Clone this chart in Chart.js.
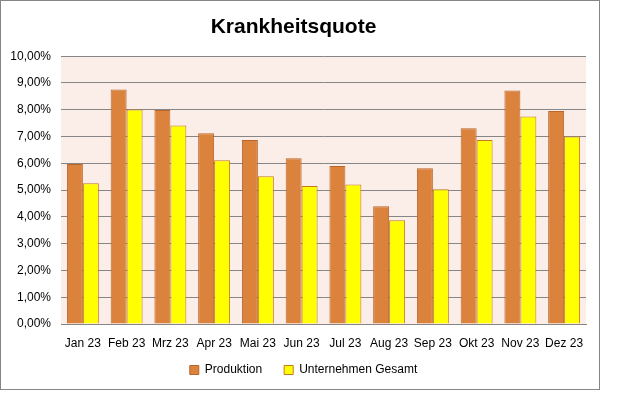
<!DOCTYPE html>
<html>
<head>
<meta charset="utf-8">
<script src="https://cdn.jsdelivr.net/npm/chart.js@4"></script>
<style>
  html, body { margin: 0; padding: 0; background: #fff; }
  #frame {
    position: absolute; left: 0; top: 0;
    width: 598px; height: 388px;
    border: 1px solid #868686;
  }
</style>
</head>
<body>
<div id="frame"><canvas id="chart" width="598" height="388"></canvas></div>
<script>
// Daten (Werte in Prozent)
const months = ['Jan 23', 'Feb 23', 'Mrz 23', 'Apr 23', 'Mai 23', 'Jun 23',
                'Jul 23', 'Aug 23', 'Sep 23', 'Okt 23', 'Nov 23', 'Dez 23'];
const produktion = [5.97, 8.76, 7.99, 7.12, 6.87, 6.19, 5.90, 4.40, 5.82, 7.31, 8.72, 7.95];
const unternehmenGesamt = [5.26, 8.01, 7.41, 6.11, 5.52, 5.15, 5.21, 3.87, 5.03, 6.87, 7.75, 7.00];
const yTicks = [0, 1, 2, 3, 4, 5, 6, 7, 8, 9, 10];

const FONT = "'Liberation Sans', Arial, sans-serif";

// Hintergrund der Zeichenfläche
const plotBackground = {
    id: 'plotBackground',
    beforeDraw(chart) {
        const { ctx, chartArea } = chart;
        ctx.save();
        ctx.fillStyle = '#FBEEE9';
        ctx.fillRect(chartArea.left, chartArea.top,
                     chartArea.right - chartArea.left, chartArea.bottom - chartArea.top);
        ctx.restore();
    }
};

// Legende: feste Höhe und etwas nach rechts/oben verschoben
const legendTweak = {
    id: 'legendTweak',
    beforeLayout(chart) {
        const lg = chart.legend;
        if (lg && !lg._patched) {
            const fit = lg.fit;
            lg.fit = function() {
                fit.call(this);
                this.height = 35;
            };
            lg._patched = true;
        }
    },
    afterLayout(chart) {
        const lg = chart.legend;
        if (lg) {
            lg.left += 10;
            lg.right += 10;
            lg.top -= 12;
            lg.bottom -= 12;
        }
    }
};

const ctx = document.getElementById('chart').getContext('2d');
new Chart(ctx, {
    type: 'bar',
    data: {
        labels: months,
        datasets: [
            {
                label: 'Produktion',
                data: produktion,
                backgroundColor: '#DB823D',
                borderColor: '#B9652B',
                borderWidth: 1,
                categoryPercentage: 0.73,
                barPercentage: 1.0
            },
            {
                label: 'Unternehmen Gesamt',
                data: unternehmenGesamt,
                backgroundColor: '#FFFF00',
                borderColor: '#C9771F',
                borderWidth: 1,
                categoryPercentage: 0.73,
                barPercentage: 1.0
            }
        ]
    },
    options: {
        responsive: false,
        animation: false,
        layout: { padding: { left: 0, right: 13, top: 0, bottom: 0 } },
        plugins: {
            title: {
                display: true,
                text: 'Krankheitsquote',
                color: '#000',
                font: { family: FONT, size: 21, weight: 'bold' },
                padding: { top: 14, bottom: 16 }
            },
            legend: {
                display: true,
                position: 'bottom',
                labels: {
                    color: '#000',
                    font: { family: FONT, size: 12 },
                    boxWidth: 9,
                    boxHeight: 9,
                    padding: 22
                }
            },
            tooltip: { enabled: false }
        },
        scales: {
            x: {
                grid: { display: false, drawTicks: false },
                border: { display: true, color: '#868686' },
                ticks: {
                    color: '#000',
                    font: { family: FONT, size: 12 },
                    padding: 12,
                    maxRotation: 0,
                    autoSkip: false
                },
                afterFit(scale) { scale.height = 30; }
            },
            y: {
                min: 0,
                max: 10,
                grid: { color: '#868686', drawTicks: false },
                border: { display: false },
                afterBuildTicks(scale) {
                    scale.ticks = yTicks.map(v => ({ value: v }));
                },
                ticks: {
                    color: '#000',
                    font: { family: FONT, size: 12 },
                    padding: 10,
                    callback: function(value) {
                        return value.toFixed(2).replace('.', ',') + '%';
                    }
                },
                afterFit(scale) { scale.width = 60; }
            }
        }
    },
    plugins: [plotBackground, legendTweak]
});
</script>
</body>
</html>
